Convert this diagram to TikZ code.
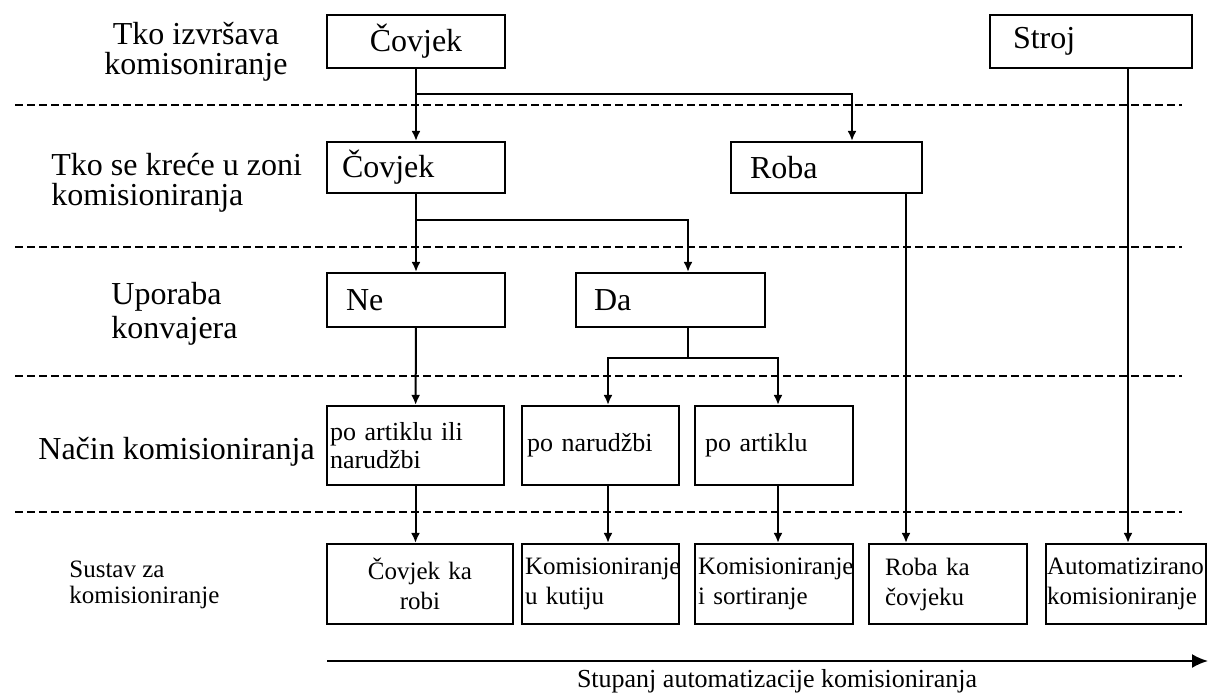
\documentclass[tikz,border=0pt]{standalone}
\usepackage{fontspec}
\setmainfont{Liberation Serif}
\usetikzlibrary{arrows.meta}

\begin{document}
\begin{tikzpicture}[x=0.5pt,y=-0.5pt,
    box/.style={draw, line width=1.1pt, inner ysep=0pt, align=left},
    big/.style={font=\fontsize{16}{15}\selectfont},
    mid/.style={font=\fontsize{13}{14}\selectfont},
    small/.style={font=\fontsize{12.5}{15}\selectfont},
    lbl/.style={inner sep=0pt},
    line/.style={line width=1pt},
    conn/.style={line, -{Latex[length=5pt,width=4.5pt]}},
    sep/.style={line width=1.2pt, dash pattern=on 4pt off 2pt}]
    \useasboundingbox (0,0) rectangle (1211,692);

    % dashed separators
    \foreach \y in {105,247,376,512}
        \draw[sep] (15,\y) -- (1182,\y);

    % row labels
    \node[lbl, big, align=center] (q1) at (196,52) {Tko izvršava\\komisoniranje};
    \node[lbl, big, align=left, anchor=west] (q2) at (51,183) {Tko se kreće u zoni\\komisioniranja};
    \node[lbl, font=\fontsize{16}{17}\selectfont, align=left, anchor=west] (q3) at (111,314) {Uporaba\\konvajera};
    \node[lbl, big, anchor=west] (q4) at (38,452) {Način komisioniranja};
    \node[lbl, font=\fontsize{12.5}{13}\selectfont, align=left, anchor=west] (q5) at (69,585) {Sustav za\\komisioniranje};

    % boxes
    \node[box, big, align=center, text width=83pt, inner xsep=3pt, minimum height=26.5pt] (wh1) at (416,41.5) {Čovjek};
    \node[box, big, text width=78pt, inner xsep=11.5pt, minimum height=26.5pt] (stroj) at (1091,41.5) {Stroj};
    \node[box, big, text width=74pt, inner xsep=7.5pt, minimum height=25.5pt] (mv1) at (416,167.5) {Čovjek};
    \node[box, big, text width=76.5pt, inner xsep=9.5pt, minimum height=25.5pt] (roba) at (826.5,167.5) {Roba};
    \node[box, big, text width=70pt, inner xsep=9.5pt, minimum height=27pt] (ne) at (416,300) {Ne};
    \node[box, big, text width=76.5pt, inner xsep=9pt, minimum height=27pt] (da) at (670.5,300) {Da};
    \node[box, mid, text width=85.5pt, inner xsep=1.5pt, minimum height=39.5pt] (pai) at (415.5,445.5) {po artiklu ili\\narudžbi};
    \node[box, mid, text width=73.5pt, inner xsep=2.5pt, minimum height=39.5pt] (pn) at (600.5,445.5) {po narudžbi};
    \node[box, mid, text width=69pt, inner xsep=5pt, minimum height=39.5pt] (pa) at (774,445.5) {po artiklu};
    \node[box, small, align=center, text width=89pt, inner xsep=2pt, minimum height=40pt] (s1) at (420,584) {Čovjek ka\\robi};
    \node[box, small, text width=75.5pt, inner xsep=1.5pt, minimum height=40pt] (s2) at (600.5,584) {Komisioniranje\\u kutiju};
    \node[box, small, text width=76pt, inner xsep=1.5pt, minimum height=40pt] (s3) at (774,584) {Komisioniranje\\i sortiranje};
    \node[box, small, text width=63pt, inner xsep=8pt, minimum height=40pt] (s4) at (948,584) {Roba ka\\čovjeku};
    \node[box, small, text width=79pt, inner xsep=0.5pt, minimum height=40pt] (s5) at (1126,584) {Automatizirano\\komisioniranje};

    % branch points
    \coordinate (j1) at (852,94);
    \coordinate (j2) at (688,220);
    \coordinate (j3) at (688,358);
    \coordinate (vl) at (608,0);
    \coordinate (vm) at (778,0);
    \coordinate (vr) at (906,0);
    \coordinate (vs) at (1128,0);

    \draw[conn] (wh1) -- (mv1);
    \draw[conn] (wh1.south) |- (j1) -- (j1 |- roba.north);
    \draw[conn] (mv1) -- (ne);
    \draw[conn] (mv1.south) |- (j2) -- (j2 |- da.north);
    \draw[line] (da.south -| j3) -- (j3);
    \draw[conn] (j3) -| (vl |- pn.north);
    \draw[conn] (j3) -| (vm |- pa.north);
    \draw[conn] (ne) -- (pai);
    \draw[conn] (pai.south) -- (pai.south |- s1.north);
    \draw[conn] (pn.south -| vl) -- (vl |- s2.north);
    \draw[conn] (pa.south -| vm) -- (vm |- s3.north);
    \draw[conn] (roba.south -| vr) -- (vr |- s4.north);
    \draw[conn] (stroj.south -| vs) -- (vs |- s5.north);

    % automation axis
    \coordinate (a0) at (327,661);
    \coordinate (a1) at (1208,661);
    \draw[line width=1pt, -{Latex[length=8pt,width=7pt]}] (a0) -- (a1);
    \node[lbl, font=\fontsize{13}{15}\selectfont] (axl) at (777,681) {Stupanj automatizacije komisioniranja};
\end{tikzpicture}
\end{document}
